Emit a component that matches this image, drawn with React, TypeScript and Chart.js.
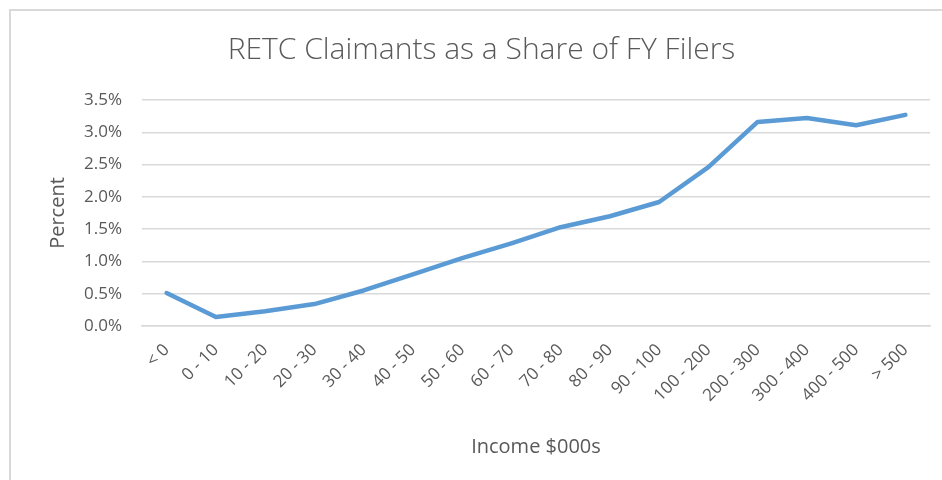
import React, { useEffect, useRef } from "react";
import { Chart, registerables } from "chart.js";

Chart.register(...registerables);

const categories = [
  "< 0", "0 - 10", "10 - 20", "20 - 30", "30 - 40", "40 - 50", "50 - 60", "60 - 70",
  "70 - 80", "80 - 90", "90 - 100", "100 - 200", "200 - 300", "300 - 400", "400 - 500", "> 500",
];
const sharePercent = [
  0.51, 0.14, 0.23, 0.34, 0.55, 0.8, 1.05, 1.28, 1.53, 1.7, 1.92, 2.46, 3.16, 3.22, 3.11, 3.27,
];
const yTicks = [0, 0.5, 1, 1.5, 2, 2.5, 3, 3.5];

const TITLE = "RETC Claimants as a Share of FY Filers";
const FONT = "'Open Sans', 'Noto Sans', sans-serif";
const GREY = "#595959";
const GRID = "#d9d9d9";

export default function App() {
  const ref = useRef<HTMLCanvasElement | null>(null);
  useEffect(() => {
    if (!ref.current) return;
    const chart = new Chart(ref.current, {
      type: "line",
      data: {
        labels: categories,
        datasets: [
          {
            label: "Share",
            data: sharePercent,
            borderColor: "#5B9BD5",
            backgroundColor: "#5B9BD5",
            borderWidth: 4.5,
            pointRadius: 0,
            tension: 0,
            borderCapStyle: "round",
            borderJoinStyle: "round",
          },
        ],
      },
      options: {
        responsive: false,
        animation: false,
        layout: { padding: { left: 33, right: 12, top: 0, bottom: 0 } },
        plugins: {
          legend: { display: false },
          tooltip: { enabled: false },
          title: {
            display: true,
            text: TITLE,
            color: GREY,
            font: { family: FONT, size: 30, weight: 300, lineHeight: 1.2 },
            padding: { top: 32, bottom: 32 },
          },
        },
        scales: {
          x: {
            offset: true,
            grid: { display: false, drawTicks: false, offset: true },
            border: { display: true, color: GRID, width: 1.5 },
            ticks: {
              color: GREY,
              font: { family: FONT, size: 17 },
              minRotation: 45,
              maxRotation: 45,
              padding: 14,
              autoSkip: false,
            },
            title: {
              display: true,
              text: "Income $000s",
              color: GREY,
              font: { family: FONT, size: 20, lineHeight: 1.2 },
              padding: { top: 0, bottom: 21 },
            },
            afterFit: (s: any) => {
              s.height = 154;
            },
          },
          y: {
            min: 0,
            max: 3.5,
            grid: { color: GRID, lineWidth: 1.5, drawTicks: false },
            border: { display: false },
            afterBuildTicks: (s: any) => {
              s.ticks = yTicks.map((v) => ({ value: v }));
            },
            ticks: {
              color: GREY,
              font: { family: FONT, size: 17 },
              padding: 20,
              callback: (v: any) => Number(v).toFixed(1) + "%",
            },
            title: {
              display: true,
              text: "Percent",
              color: GREY,
              font: { family: FONT, size: 20, lineHeight: 1.2 },
              padding: { top: 13, bottom: 0 },
            },
            afterFit: (s: any) => {
              s.width = 109;
            },
          },
        },
      },
    });
    return () => chart.destroy();
  }, []);

  return (
    <div style={{ position: "absolute", left: 0, top: 0, width: 942, height: 480, background: "#fff", overflow: "hidden" }}>
      <div
        style={{
          position: "absolute",
          left: 9,
          top: 9,
          width: 933,
          height: 471,
          borderLeft: `2px solid ${GRID}`,
          borderTop: `2px solid ${GRID}`,
          boxSizing: "border-box",
        }}
      />
      <canvas ref={ref} width={942} height={480} style={{ position: "absolute", left: 0, top: 0 }} />
    </div>
  );
}
